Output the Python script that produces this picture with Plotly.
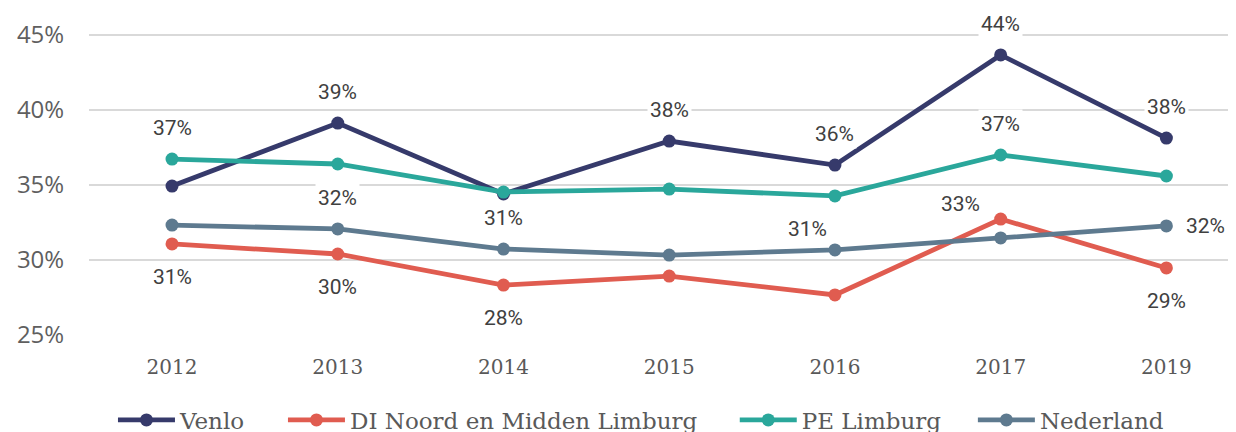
import plotly.graph_objects as go

years = ["2012", "2013", "2014", "2015", "2016", "2017", "2019"]
venlo = [34.93, 39.13, 34.4, 37.93, 36.33, 43.67, 38.13]
di_nml = [31.07, 30.4, 28.33, 28.93, 27.67, 32.73, 29.47]
pe_limburg = [36.73, 36.4, 34.53, 34.73, 34.27, 37.0, 35.6]
nederland = [32.33, 32.07, 30.73, 30.33, 30.67, 31.47, 32.27]
y_ticks = [25, 30, 35, 40, 45]

series = [
    ("Venlo", venlo, "#363a6b"),
    ("DI Noord en Midden Limburg", di_nml, "#e05c50"),
    ("PE Limburg", pe_limburg, "#2aa79b"),
    ("Nederland", nederland, "#5e7a8f"),
]
data = {name: vals for name, vals, _ in series}

# which points carry a data label, and where the label sits
label_points = [
    ("PE Limburg", 0, "above"),
    ("DI Noord en Midden Limburg", 0, "below"),
    ("Venlo", 1, "above"),
    ("Nederland", 1, "above"),
    ("DI Noord en Midden Limburg", 1, "below"),
    ("Nederland", 2, "above"),
    ("DI Noord en Midden Limburg", 2, "below"),
    ("Venlo", 3, "above"),
    ("Venlo", 4, "above"),
    ("Nederland", 4, "upleft"),
    ("Venlo", 5, "above"),
    ("PE Limburg", 5, "above"),
    ("DI Noord en Midden Limburg", 5, "upleft2"),
    ("Venlo", 6, "above"),
    ("Nederland", 6, "right"),
    ("DI Noord en Midden Limburg", 6, "below"),
]
shifts = {
    "above": (0, 31),
    "below": (0, -33),
    "upleft": (-27, 21),
    "upleft2": (-40, 15),
    "right": (39, 0),
}
legend_ids = ["legend", "legend2", "legend3", "legend4"]
legend_x = [0.0209, 0.1691, 0.563, 0.7706]

fig = go.Figure()
for (name, vals, color), lid in zip(series, legend_ids):
    fig.add_trace(go.Scatter(
        x=years, y=vals, name=name, mode="lines+markers",
        line=dict(color=color, width=4.8),
        marker=dict(color=color, size=13),
        legend=lid,
    ))

annotations = []
for name, i, pos in label_points:
    dx, dy = shifts[pos]
    annotations.append(dict(
        x=i, y=data[name][i], xref="x", yref="y",
        text=f"{round(data[name][i])}%",
        showarrow=False, xshift=dx, yshift=dy,
        font=dict(family="Roboto", size=21, color="#404040"),
        bgcolor="white", borderpad=2,
    ))

legend_style = dict(
    orientation="h", xanchor="left", y=-0.26, yanchor="middle",
    font=dict(family="DejaVu Serif", size=23, color="#595959"),
    itemwidth=57, bgcolor="rgba(0,0,0,0)",
)
legends = {lid: dict(legend_style, x=lx) for lid, lx in zip(legend_ids, legend_x)}

fig.update_layout(
    width=1236, height=432,
    margin=dict(l=81, r=8, t=0, b=105, autoexpand=False),
    paper_bgcolor="white", plot_bgcolor="white",
    showlegend=True,
    annotations=annotations,
    **legends,
    xaxis=dict(
        type="category", range=[-0.501, 6.42],
        showgrid=False, zeroline=False, showline=False,
        tickfont=dict(family="DejaVu Serif", size=20, color="#595959"),
        ticks="outside", ticklen=14, tickcolor="rgba(0,0,0,0)",
        automargin=False,
    ),
    yaxis=dict(
        range=[25, 46.8], tickmode="array", tickvals=y_ticks,
        ticktext=[f"{v}%" for v in y_ticks],
        showgrid=True, gridcolor="#d9d9d9", gridwidth=1.5,
        zeroline=False, showline=False,
        tickfont=dict(family="Open Sans", size=24, color="#5f5f5f"),
        ticks="outside", ticklen=19, tickcolor="rgba(0,0,0,0)",
        automargin=False,
    ),
)

fig.write_html("out.html")
